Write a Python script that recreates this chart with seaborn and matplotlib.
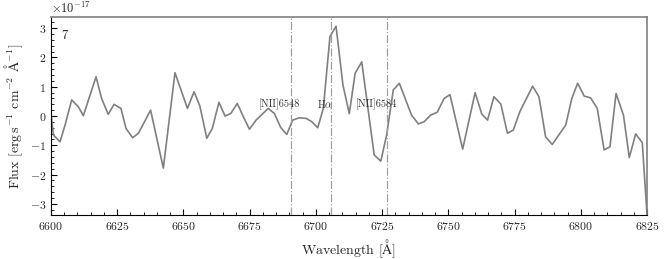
import numpy as np
import pandas as pd
import matplotlib
matplotlib.use("Agg")
import matplotlib.pyplot as plt
import seaborn as sns
from matplotlib.ticker import MultipleLocator

wavelength = [6600.0, 6600.9, 6603.4, 6605.3, 6607.8, 6610.3, 6612.2, 6617.0, 6619.1,
              6621.6, 6623.8, 6626.4, 6628.3, 6630.8, 6633.0, 6637.6, 6642.4, 6646.8,
              6651.5, 6654.0, 6656.2, 6658.8, 6660.9, 6663.4, 6665.7, 6667.9, 6670.3,
              6672.6, 6674.9, 6677.4, 6682.0, 6684.3, 6686.7, 6689.0, 6691.2, 6693.7,
              6696.3, 6698.4, 6700.7, 6702.8, 6705.3, 6707.6, 6710.2, 6712.6, 6714.8,
              6717.3, 6722.0, 6724.5, 6726.7, 6729.2, 6731.5, 6736.1, 6738.7, 6740.9,
              6743.3, 6745.8, 6748.4, 6750.6, 6755.4, 6760.1, 6762.6, 6764.8, 6767.2,
              6769.8, 6772.3, 6774.5, 6777.0, 6781.8, 6784.2, 6786.7, 6789.2, 6794.3,
              6796.6, 6798.8, 6801.3, 6803.7, 6806.2, 6808.8, 6811.0, 6813.3, 6816.1,
              6818.3, 6820.7, 6823.2, 6825.0]
flux = [0.09, -0.65, -0.88, -0.31, 0.55, 0.32, 0.01, 1.34, 0.60,
        0.06, 0.40, 0.26, -0.42, -0.74, -0.59, 0.20, -1.78, 1.48,
        0.26, 0.83, 0.34, -0.76, -0.42, 0.47, 0.00, 0.09, 0.43,
        -0.02, -0.45, -0.14, 0.26, 0.09, -0.39, -0.63, -0.14, -0.06,
        -0.08, -0.19, -0.40, 0.26, 2.71, 3.07, 1.06, 0.08, 1.46,
        1.85, -1.33, -1.54, -0.65, 0.89, 1.12, 0.03, -0.27, -0.19,
        0.03, 0.13, 0.60, 0.73, -1.13, 0.80, 0.07, -0.14, 0.66,
        0.41, -0.59, -0.48, 0.15, 1.02, 0.66, -0.71, -0.97, -0.31,
        0.60, 1.12, 0.68, 0.62, 0.26, -1.16, -1.05, 0.77, 0.03,
        -1.42, -0.61, -0.91, -3.38]

line_waves = [6690.7, 6705.7, 6726.8]
line_labels = ["[NII]6548", r"H$\alpha$", "[NII]6584"]
label_x = [6686.4, 6703.4, 6722.7]
panel_label = "7"

scale = 1e-17
df = pd.DataFrame({"wavelength": wavelength, "flux": np.array(flux) * scale})

sns.set_theme(style="ticks")
plt.rcParams["font.family"] = ["cmr10", "DejaVu Serif"]
plt.rcParams["mathtext.fontset"] = "cm"
plt.rcParams["axes.formatter.use_mathtext"] = True
plt.rcParams["axes.unicode_minus"] = True

fig = plt.figure(figsize=(6.65, 2.59), dpi=100)
ax = fig.add_axes([0.0767, 0.170, 0.8963, 0.764])

sns.lineplot(data=df, x="wavelength", y="flux", ax=ax, color="#808080",
             linewidth=1.2, estimator=None, sort=False)

for lw, lab, lx in zip(line_waves, line_labels, label_x):
    ax.axvline(lw, color="#a0a0a0", linestyle="-.", linewidth=0.9)
    ax.text(lx, 0.40 * scale, lab, ha="center", va="center", fontsize=7.5,
            color="#333333")

ax.text(6604, 2.75 * scale, panel_label, ha="left", va="center", fontsize=9)

ax.set_xlim(6600, 6825)
ax.set_ylim(-3.38 * scale, 3.38 * scale)
ax.xaxis.set_major_locator(MultipleLocator(25))
ax.xaxis.set_minor_locator(MultipleLocator(5))
ax.yaxis.set_major_locator(MultipleLocator(1 * scale))
ax.yaxis.set_minor_locator(MultipleLocator(0.2 * scale))
ax.tick_params(which="both", direction="in", labelsize=8.5, color="black")
ax.tick_params(which="major", length=4, width=0.8)
ax.tick_params(which="minor", length=2, width=0.6)
ax.tick_params(top=False, right=False, which="both")
ax.yaxis.get_offset_text().set_fontsize(9)

ax.set_xlabel(r"Wavelength [$\mathrm{\AA}$]", fontsize=10)
ax.set_ylabel(r"Flux [erg$\,$s$^{-1}$ cm$^{-2}$ $\mathrm{\AA}^{-1}$]", fontsize=10,
              labelpad=3)

for s in ["top", "right"]:
    ax.spines[s].set_color("#808080")
    ax.spines[s].set_linewidth(1.2)
for s in ["left", "bottom"]:
    ax.spines[s].set_color("black")
    ax.spines[s].set_linewidth(0.8)

fig.savefig("out.png", dpi=100)
